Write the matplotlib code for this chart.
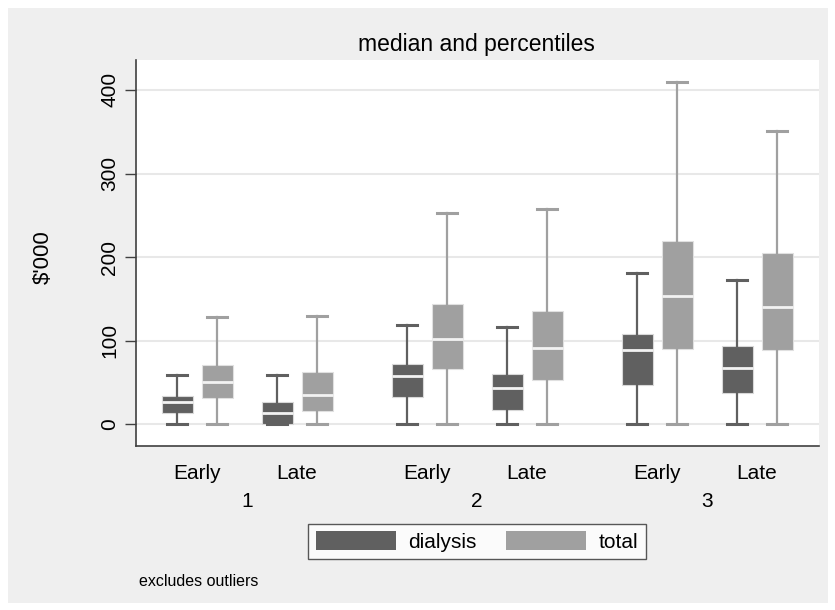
import matplotlib
matplotlib.use("Agg")
import matplotlib.pyplot as plt
from matplotlib.patches import Patch, Rectangle

plt.rcParams['font.family'] = ['Liberation Sans', 'DejaVu Sans']

groups = ["1", "2", "3"]
timings = ["Early", "Late"]
series = ["dialysis", "total"]
colors = {"dialysis": "#606060", "total": "#a0a0a0"}

# per series: list over (group, timing) -> [whislo, q1, med, q3, whishi]
dialysis_stats = [
    [0, 14, 27, 34, 58.6],
    [0, 0, 13.6, 26.3, 58.6],
    [0, 33, 57.8, 72.2, 118.8],
    [0, 16.7, 43.9, 59.8, 116.5],
    [0, 47, 88.5, 108.5, 180.7],
    [0, 37.5, 67.8, 93.3, 173],
]
total_stats = [
    [0, 31.9, 50.2, 71, 128],
    [0, 16, 35.5, 62.2, 129.2],
    [0, 66.6, 102.5, 144, 253.2],
    [0, 52.6, 91.3, 136, 257.6],
    [0, 90.5, 154, 219.7, 410],
    [0, 89.3, 140, 205, 351.3],
]
yticks = [0, 100, 200, 300, 400]

W, H = 835, 610
fig = plt.figure(figsize=(W / 100, H / 100), dpi=100, facecolor="white")
fig.patches.append(Rectangle((8 / W, 1 - 603 / H), 820 / W, 595 / H,
                             transform=fig.transFigure, facecolor="#efefef",
                             edgecolor="none", zorder=-10))

ax_left, ax_right, ax_top, ax_bot = 135.7, 819, 60, 445.7
ax = fig.add_axes([ax_left / W, 1 - ax_bot / H, (ax_right - ax_left) / W, (ax_bot - ax_top) / H])
ax.set_facecolor("white")

# layout in pixel-like units
def pair_center(g, t):
    return 197 + g * 230 + t * 100

offsets = {"dialysis": -20, "total": 20}
data = {"dialysis": dialysis_stats, "total": total_stats}

for s in series:
    stats = []
    pos = []
    k = 0
    for g in range(len(groups)):
        for t in range(len(timings)):
            lo, q1, med, q3, hi = data[s][k]
            stats.append(dict(whislo=lo, q1=q1, med=med, q3=q3, whishi=hi, fliers=[]))
            pos.append(pair_center(g, t) + offsets[s])
            k += 1
    c = colors[s]
    ax.bxp(stats, positions=pos, widths=31, patch_artist=True, showfliers=False,
           boxprops=dict(facecolor=c, edgecolor="#d8d8d8" if s == "dialysis" else "#e0e0e0", linewidth=0.8),
           medianprops=dict(color="#f2f2f2", linewidth=2.0),
           whiskerprops=dict(color=c, linewidth=1.6),
           capprops=dict(color=c, linewidth=2.2),
           capwidths=20, manage_ticks=False, zorder=3)

ax.set_xlim(ax_left, ax_right)
ax.set_ylim(-25.6, 435.8)
ax.set_yticks(yticks)
ax.set_yticklabels([str(v) for v in yticks], rotation=90, va="center", fontsize=15)
ax.tick_params(axis="y", length=8, width=1, color="#404040", pad=4)
ax.yaxis.grid(True, color="#e8e8e8", linewidth=1.5)
ax.set_axisbelow(True)
for sp in ["top", "right"]:
    ax.spines[sp].set_visible(False)
for sp in ["left", "bottom"]:
    ax.spines[sp].set_color("#404040")
    ax.spines[sp].set_linewidth(1.2)

tick_pos = [pair_center(g, t) for g in range(len(groups)) for t in range(len(timings))]
tick_lab = [timings[t] for g in range(len(groups)) for t in range(len(timings))]
ax.set_xticks(tick_pos)
ax.set_xticklabels(tick_lab, fontsize=15)
ax.tick_params(axis="x", length=0, pad=13)

for g, name in enumerate(groups):
    xc = (pair_center(g, 0) + pair_center(g, 1)) / 2
    ax.text(xc, -25.6 - (501.7 - 445.7) * 400 / 334.3, name, ha="center", va="center",
            fontsize=15, transform=ax.transData, clip_on=False)

ax.set_ylabel("$'000", fontsize=16)
ax.yaxis.set_label_coords((54 - ax_left) / (ax_right - ax_left), 0.49)
fig.text(476 / W, 1 - 45 / H, "median and percentiles", ha="center", va="center", fontsize=16.5)
fig.text(139 / W, 1 - 581 / H, "excludes outliers", ha="left", va="center", fontsize=11.5)

handles = [Patch(facecolor=colors[s], edgecolor="none", label=s) for s in series]
leg = fig.legend(handles=handles, loc="center", bbox_to_anchor=(477 / W, 1 - 541.5 / H),
                 ncol=2, fontsize=15, frameon=True, fancybox=False,
                 handlelength=3.85, handleheight=1.05, handletextpad=0.6,
                 columnspacing=1.4, borderpad=0.35, borderaxespad=0)
leg.get_frame().set_edgecolor("#303030")
leg.get_frame().set_linewidth(1.0)
leg.get_frame().set_facecolor("white")

fig.savefig("out.png", dpi=100, facecolor="white")
